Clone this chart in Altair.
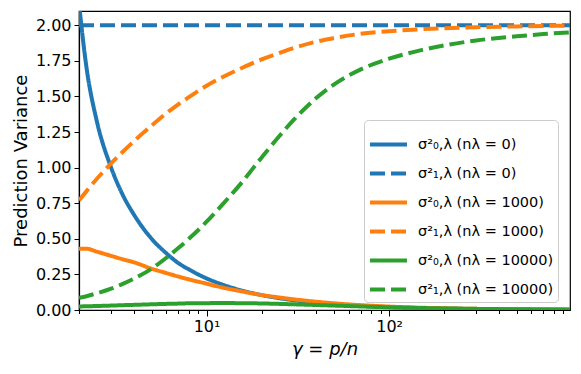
import altair as alt
import pandas as pd

gamma = [2, 2.2, 2.5, 3, 3.5, 4, 5, 6, 7, 8, 10, 12, 15, 20, 25, 30, 40, 50, 70,
         100, 150, 200, 300, 500, 700, 980]

s0_l0 = [2.15, 1.70, 1.33, 1.00, 0.80, 0.67, 0.50, 0.40, 0.33, 0.285, 0.222, 0.182,
         0.143, 0.105, 0.083, 0.069, 0.051, 0.041, 0.029, 0.020, 0.013, 0.010,
         0.0067, 0.004, 0.0029, 0.002]
s1_l0 = [2.0] * 26
s0_l1000 = [0.43, 0.43, 0.41, 0.38, 0.355, 0.335, 0.29, 0.26, 0.235, 0.215, 0.185,
            0.16, 0.135, 0.105, 0.088, 0.075, 0.058, 0.047, 0.034, 0.024, 0.016,
            0.012, 0.008, 0.005, 0.0035, 0.0025]
s1_l1000 = [0.77, 0.835, 0.92, 1.03, 1.115, 1.185, 1.295, 1.38, 1.445, 1.495, 1.575,
            1.63, 1.69, 1.76, 1.805, 1.84, 1.885, 1.91, 1.94, 1.958, 1.972, 1.979,
            1.986, 1.992, 1.995, 1.997]
s0_l10000 = [0.025, 0.026, 0.028, 0.031, 0.034, 0.036, 0.040, 0.043, 0.045, 0.047,
             0.048, 0.049, 0.048, 0.046, 0.043, 0.040, 0.035, 0.031, 0.025, 0.019,
             0.014, 0.011, 0.008, 0.005, 0.004, 0.003]
s1_l10000 = [0.085, 0.097, 0.117, 0.15, 0.185, 0.22, 0.29, 0.365, 0.435, 0.50, 0.62,
             0.73, 0.87, 1.07, 1.22, 1.335, 1.49, 1.585, 1.69, 1.765, 1.825, 1.858,
             1.893, 1.922, 1.938, 1.95]

labels = ["σ²₀,λ (nλ = 0)", "σ²₁,λ (nλ = 0)",
          "σ²₀,λ (nλ = 1000)", "σ²₁,λ (nλ = 1000)",
          "σ²₀,λ (nλ = 10000)", "σ²₁,λ (nλ = 10000)"]
colors = ["#1f77b4", "#1f77b4", "#ff7f0e", "#ff7f0e", "#2ca02c", "#2ca02c"]
dashes = [[1, 0], [15, 6], [1, 0], [15, 6], [1, 0], [15, 6]]
series = [s0_l0, s1_l0, s0_l1000, s1_l1000, s0_l10000, s1_l10000]

rows = []
for i, (lab, vals) in enumerate(zip(labels, series)):
    for g, v in zip(gamma, vals):
        rows.append({"gamma": g, "value": v, "series": lab, "order": i})
df = pd.DataFrame(rows)

major_vals = [10, 100]
minor_vals = [2, 3, 4, 5, 6, 7, 8, 9, 20, 30, 40, 50, 60, 70, 80, 90,
              200, 300, 400, 500, 600, 700, 800, 900]
y_vals = [0, 0.25, 0.5, 0.75, 1.0, 1.25, 1.5, 1.75, 2.0]

xscale = alt.Scale(type="log", domain=[2, 980], nice=False)
yscale = alt.Scale(domain=[0, 2.1], nice=False, zero=False)

lines = alt.Chart(df).mark_line(strokeWidth=4, clip=True, interpolate="monotone").encode(
    x=alt.X("gamma:Q", scale=xscale,
            axis=alt.Axis(values=major_vals, title="γ = p/n", orient="bottom",
                          labelExpr="datum.value == 10 ? '10¹' : '10²'",
                          tickSize=6, labelOverlap=False,
                          titleFontStyle="italic", labelPadding=2, titlePadding=6)),
    y=alt.Y("value:Q", scale=yscale,
            axis=alt.Axis(values=y_vals, format=".2f", title="Prediction Variance",
                          tickSize=5, labelPadding=3, titlePadding=5)),
    color=alt.Color("series:N", scale=alt.Scale(domain=labels, range=colors),
                    legend=alt.Legend(title=None, orient="none", legendX=285, legendY=109,
                                      symbolType="stroke", symbolStrokeWidth=4,
                                      symbolSize=1369, labelFontSize=14.5, labelOffset=9,
                                      rowPadding=0, padding=4, fillColor="white",
                                      strokeColor="#cccccc", cornerRadius=4,
                                      labelFont="DejaVu Sans", labelLimit=300)),
    strokeDash=alt.StrokeDash("series:N", scale=alt.Scale(domain=labels, range=dashes),
                              legend=alt.Legend(title=None, orient="none", legendX=285, legendY=109)),
    order="order:Q",
)

minor = alt.Chart(df).mark_point(opacity=0).encode(
    x=alt.X("gamma:Q", scale=xscale,
            axis=alt.Axis(values=minor_vals, orient="bottom", labels=False, title=None,
                          tickSize=3.5, domain=False)),
)

chart = alt.layer(lines, minor).resolve_axis(x="independent").properties(
    width=491, height=299,
    autosize=alt.AutoSizeParams(type="none"),
    padding={"left": 71, "top": 3, "right": 3, "bottom": 56},
).configure_view(
    stroke="black", strokeWidth=1.2
).configure_axis(
    grid=False, domainColor="black", tickColor="black", labelColor="black",
    titleColor="black", labelFont="DejaVu Sans", titleFont="DejaVu Sans",
    labelFontSize=16, titleFontSize=18, titleFontWeight="normal", domainWidth=1.2,
    tickWidth=1
)

chart.save("out.html", embed_options={"renderer": "svg", "actions": False})
